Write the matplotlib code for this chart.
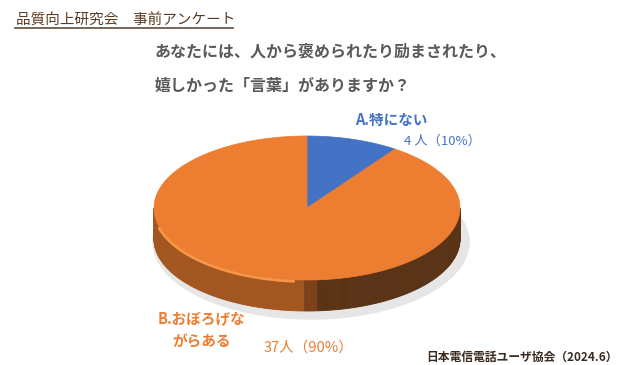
import numpy as np
import matplotlib.pyplot as plt
from matplotlib.patches import Polygon, Ellipse

plt.rcParams['font.family'] = ['Noto Sans CJK JP', 'DejaVu Sans']

labels = ["A.特にない", "B.おぼろげな", "がらある"]
counts = [4, 37]
shares = [10, 90]
top_colors = ["#4472C4", "#ED7D31"]
text_colors = ["#4472C4", "#ED7D31"]

fig = plt.figure(figsize=(6.4, 3.65), dpi=100)
ax = fig.add_axes([0, 0, 1, 1])
ax.set_xlim(0, 640)
ax.set_ylim(365, 0)
ax.axis("off")

cx, cy, rx, ry, depth = 307, 208, 153, 72, 31


def pt(theta):
    t = np.radians(theta)
    return cx + rx * np.cos(t), cy - ry * np.sin(t)


# shadow
ax.add_patch(Ellipse((cx + 4, cy + depth + 3), 2 * rx + 10, 2 * ry + 10,
                     color="#E6E6E6", zorder=1))

# side wall of the front half
phis = np.linspace(180, 360, 181)
for a, b in zip(phis[:-1], phis[1:]):
    xa, ya = pt(a)
    xb, yb = pt(b)
    m = (xa + xb) / 2
    if m < cx - 2:
        c = "#A3561F"
    elif m < cx + 12:
        c = "#7B4219"
    else:
        c = "#5A3316"
    ax.add_patch(Polygon([(xa, ya), (xb, yb), (xb, yb + depth), (xa, ya + depth)],
                         closed=True, facecolor=c, edgecolor=c, lw=0.6, zorder=2))

# top surface wedges
start = 90
total = sum(counts)
for n, col in zip(counts, top_colors):
    span = 360 * n / total
    th = np.linspace(start, start - span, 200)
    xs, ys = pt(th)
    verts = [(cx, cy)] + list(zip(xs, ys))
    ax.add_patch(Polygon(verts, closed=True, facecolor=col, edgecolor=col,
                         lw=0.5, zorder=3))
    start -= span

# light rim on lower left
th = np.linspace(195, 265, 100)
xs, ys = pt(th)
ax.plot(xs, ys + 1.5, color="#F79646", lw=2, zorder=4, solid_capstyle="round")

# header
ax.text(16, 25, "品質向上研究会\u3000事前アンケート", fontsize=10.5,
        color="#5B3A1E", va="baseline")
ax.plot([15, 233], [28, 28], color="#6B5A4A", lw=1.3)

ax.text(155, 52, "あなたには、人から褒められたり励まされたり、", fontsize=11.5,
        fontweight="bold", color="#595959", va="center")
ax.text(155, 86, "嬉しかった「言葉」がありますか？", fontsize=11.5,
        fontweight="bold", color="#595959", va="center")

# data labels
ax.text(355, 120, labels[0], fontsize=10.5, fontweight="bold",
        color=text_colors[0], va="center")
ax.text(404, 141, f"{counts[0]} 人（{shares[0]}%）", fontsize=9.5,
        color=text_colors[0], va="center")
ax.text(158, 319, labels[1], fontsize=10.5, fontweight="bold",
        color=text_colors[1], va="center")
ax.text(172, 342, labels[2], fontsize=10.5, fontweight="bold",
        color=text_colors[1], va="center")
ax.text(264, 348, f"{counts[1]}人（{shares[1]}%）", fontsize=10.5,
        color=text_colors[1], va="center")

ax.text(426, 357, "日本電信電話ユーザ協会（2024.6）", fontsize=8.5,
        fontweight="bold", color="#3A2A1E", va="center")

fig.savefig("out.png", dpi=100)
